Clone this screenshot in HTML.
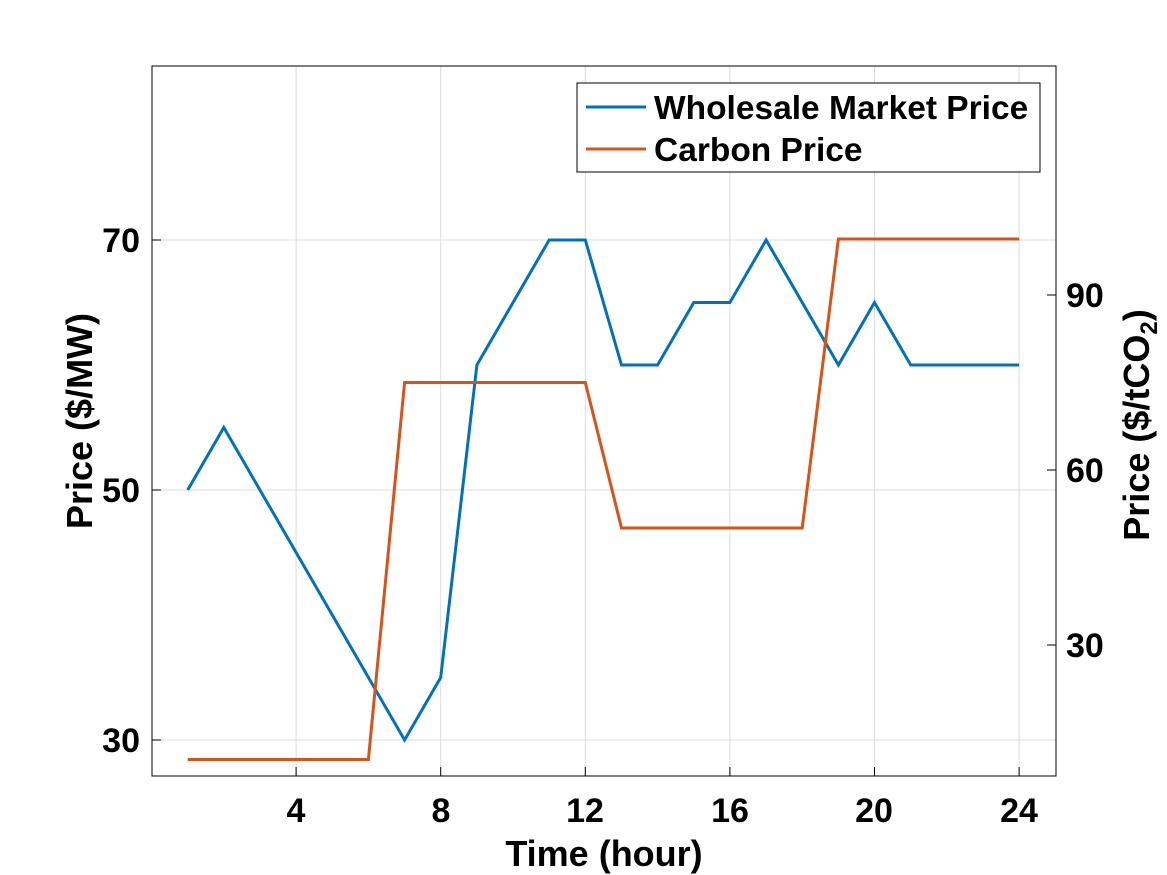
<!DOCTYPE html>
<html><head><style>body{margin:0;background:#fff}svg{display:block}text{font-family:"Liberation Sans",sans-serif;font-weight:bold;fill:#000}</style></head><body>
<svg width="1167" height="875" viewBox="0 0 1167 875">
<rect width="1167" height="875" fill="#fff"/>
<g stroke="#dcdcdc" stroke-width="1">
<line x1="296.1" y1="66" x2="296.1" y2="776"/><line x1="440.7" y1="66" x2="440.7" y2="776"/><line x1="585.3" y1="66" x2="585.3" y2="776"/><line x1="729.9" y1="66" x2="729.9" y2="776"/><line x1="874.5" y1="66" x2="874.5" y2="776"/><line x1="1019.1" y1="66" x2="1019.1" y2="776"/>
<line x1="152" y1="240" x2="1056" y2="240"/><line x1="152" y1="490" x2="1056" y2="490"/><line x1="152" y1="740" x2="1056" y2="740"/>
</g>
<rect x="152" y="66" width="904" height="710" fill="none" stroke="#000" stroke-width="1"/>
<g stroke="#000" stroke-width="1">
<line x1="296.1" y1="776" x2="296.1" y2="767"/><line x1="440.7" y1="776" x2="440.7" y2="767"/><line x1="585.3" y1="776" x2="585.3" y2="767"/><line x1="729.9" y1="776" x2="729.9" y2="767"/><line x1="874.5" y1="776" x2="874.5" y2="767"/><line x1="1019.1" y1="776" x2="1019.1" y2="767"/>
<line x1="152" y1="240" x2="161" y2="240"/><line x1="152" y1="490" x2="161" y2="490"/><line x1="152" y1="740" x2="161" y2="740"/>
<line x1="1056" y1="295" x2="1047" y2="295"/><line x1="1056" y1="470" x2="1047" y2="470"/><line x1="1056" y1="645" x2="1047" y2="645"/>
</g>
<polyline fill="none" stroke="#0072BD" stroke-width="3" points="187.7,490 223.8,427.5 404.6,740 440.7,677.5 476.9,365 549.2,240 585.3,240 621.5,365 657.6,365 693.8,302.5 729.9,302.5 766.1,240 838.4,365 874.5,302.5 910.7,365 1019.1,365"/>
<polyline fill="none" stroke="#D95319" stroke-width="3" points="187.7,759.5 368.4,759.5 404.6,382.5 585.3,382.5 621.5,528 802.2,528 838.4,239 1019.1,239"/>
<g font-size="34" text-anchor="middle">
<text x="296" y="822">4</text><text x="441" y="822">8</text><text x="585" y="822">12</text><text x="730" y="822">16</text><text x="874" y="822">20</text><text x="1019" y="822">24</text>
</g>
<g font-size="34" text-anchor="end">
<text x="140" y="252">70</text><text x="140" y="502">50</text><text x="140" y="752">30</text>
</g>
<g font-size="34" text-anchor="start">
<text x="1066" y="307">90</text><text x="1066" y="482">60</text><text x="1066" y="657">30</text>
</g>
<text x="604" y="866" font-size="36" text-anchor="middle">Time (hour)</text>
<text transform="translate(92,421) rotate(-90)" font-size="36" text-anchor="middle">Price ($/MW)</text>
<text transform="translate(1149,425) rotate(-90)" font-size="36" text-anchor="middle">Price ($/tCO<tspan font-size="24" dy="8">2</tspan><tspan dy="-8">)</tspan></text>
<rect x="577" y="83" width="463" height="89" fill="#fff" stroke="#000" stroke-width="1"/>
<line x1="586" y1="107" x2="646" y2="107" stroke="#0072BD" stroke-width="3"/>
<line x1="586" y1="149" x2="646" y2="149" stroke="#D95319" stroke-width="3"/>
<text x="654" y="119" font-size="33.5">Wholesale Market Price</text>
<text x="654" y="161" font-size="33.5">Carbon Price</text>
</svg>
</body></html>
